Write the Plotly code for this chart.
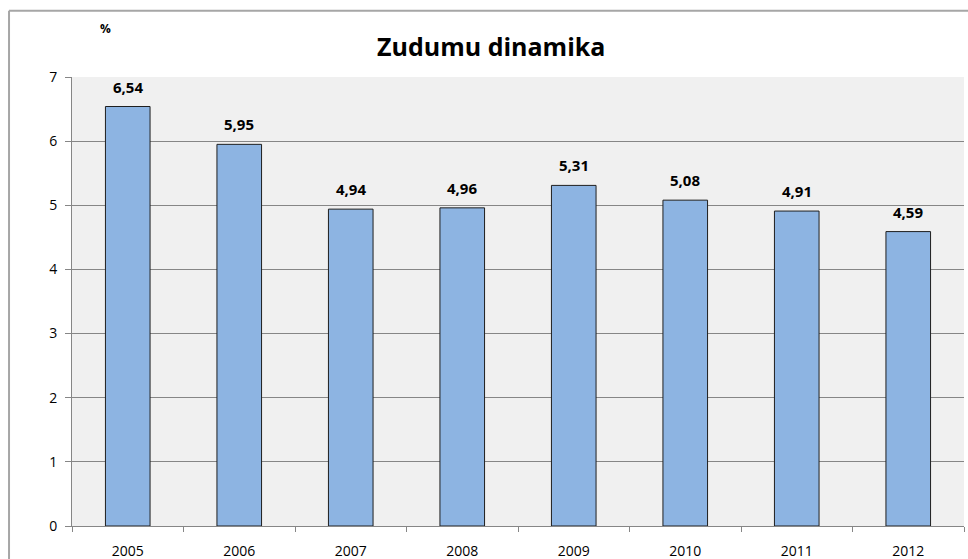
import plotly.graph_objects as go

years = ["2005", "2006", "2007", "2008", "2009", "2010", "2011", "2012"]
values = [6.54, 5.95, 4.94, 4.96, 5.31, 5.08, 4.91, 4.59]
value_labels = ["6,54", "5,95", "4,94", "4,96", "5,31", "5,08", "4,91", "4,59"]
y_ticks = [0, 1, 2, 3, 4, 5, 6, 7]

FONT = "'Open Sans', Lato, sans-serif"

fig = go.Figure()
fig.add_trace(go.Bar(
    x=years,
    y=values,
    marker=dict(color="#8DB4E2", line=dict(color="#1F1F1F", width=1)),
    hoverinfo="x+y",
))

# value labels above bars; year strings look numeric, so place by category index
for i, (v, lab) in enumerate(zip(values, value_labels)):
    fig.add_annotation(
        x=i, y=v, text=f"<b>{lab}</b>", showarrow=False,
        yanchor="bottom", yshift=8,
        font=dict(family=FONT, size=15, color="#000000"),
    )

# chart title and unit label
fig.add_annotation(
    xref="paper", yref="paper", x=0.47, y=1.07,
    text="<b>Zudumu dinamika</b>", showarrow=False,
    xanchor="center", yanchor="middle",
    font=dict(family=FONT, size=25, color="#000000"),
)
fig.add_annotation(
    xref="paper", yref="paper", x=0.038, y=1.109,
    text="<b>%</b>", showarrow=False,
    xanchor="center", yanchor="middle",
    font=dict(family=FONT, size=12, color="#000000"),
)

# outer chart frame (left and top edges fall inside the canvas)
frame = dict(color="#A6A6A6", width=2)
fig.add_shape(type="line", xref="paper", yref="paper",
              x0=-0.0706, x1=-0.0706, y0=-0.3, y1=1.1475, line=frame)
fig.add_shape(type="line", xref="paper", yref="paper",
              x0=-0.0706, x1=1.3, y0=1.1475, y1=1.1475, line=frame)

fig.update_layout(
    width=968, height=559,
    margin=dict(l=72, r=4, t=77, b=33),
    paper_bgcolor="#FFFFFF",
    plot_bgcolor="#F0F0F0",
    bargap=0.6,
    showlegend=False,
    font=dict(family=FONT, size=14, color="#000000"),
    xaxis=dict(
        type="category",
        range=[-0.5, len(years) - 0.5],
        automargin=False,
        showgrid=False,
        showline=True, linecolor="#868686", linewidth=1,
        ticks="outside", ticklen=5, tickcolor="#868686",
        tickson="boundaries",
        tickangle=0,
        ticklabelstandoff=12,
        tickfont=dict(family=FONT, size=14, color="#000000"),
    ),
    yaxis=dict(
        range=[0, 7],
        tickvals=y_ticks,
        automargin=False,
        showgrid=True, gridcolor="#868686", gridwidth=1,
        showline=True, linecolor="#868686", linewidth=1,
        ticks="outside", ticklen=6, tickcolor="#868686",
        ticklabelstandoff=5,
        zeroline=False,
        tickfont=dict(family=FONT, size=14, color="#000000"),
    ),
)

fig.write_html("out.html")
